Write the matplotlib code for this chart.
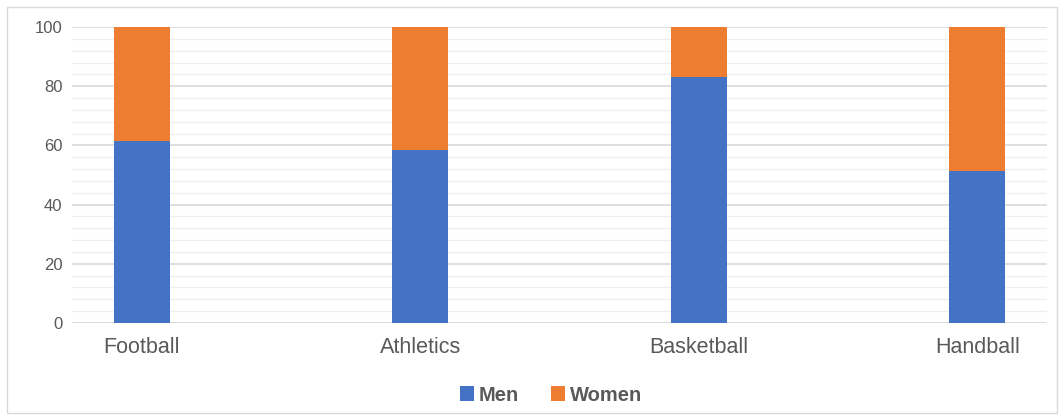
import matplotlib
matplotlib.use("Agg")
import matplotlib.pyplot as plt
from matplotlib.patches import Rectangle
import numpy as np

plt.rcParams['font.family'] = ['Liberation Sans', 'DejaVu Sans']

sports = ["Football", "Athletics", "Basketball", "Handball"]
men = [61.5, 58.5, 83, 51.5]
women = [100 - m for m in men]

blue = "#4472c4"
orange = "#ed7d31"

fig = plt.figure(figsize=(10.64, 4.19), dpi=100)
ax = fig.add_axes([72 / 1064, 96 / 419, 975 / 1064, 296 / 419])

x = np.arange(len(sports))
ax.bar(x, men, width=0.2, color=blue, label="Men", zorder=3)
ax.bar(x, women, width=0.2, bottom=men, color=orange, label="Women", zorder=3)

ax.set_xlim(-0.25, 3.25)
ax.set_ylim(0, 100)
ax.set_yticks(range(0, 101, 20))
ax.set_yticks(range(0, 101, 4), minor=True)
ax.grid(axis='y', which='major', color='#d9d9d9', linewidth=1.2, zorder=0)
ax.grid(axis='y', which='minor', color='#eeeeee', linewidth=0.9, zorder=0)
ax.set_xticks(x)
ax.set_xticklabels(sports)
ax.tick_params(axis='x', length=0, labelsize=15.5, labelcolor='#595959', pad=10)
ax.tick_params(axis='y', which='both', length=0, labelsize=12, labelcolor='#595959', pad=7)
for s in ax.spines.values():
    s.set_visible(False)
ax.axhline(0, color='#d9d9d9', linewidth=1.2, zorder=2)

leg = fig.legend(loc='center', bbox_to_anchor=(0.518, 24 / 419), ncol=2, frameon=False,
                 handlelength=0.7, handleheight=0.7, handletextpad=0.25, columnspacing=1.6,
                 prop={'size': 14.5, 'weight': 'bold'})
for t in leg.get_texts():
    t.set_color('#595959')

fig.patches.append(Rectangle((7 / 1064, 6 / 419), 1050 / 1064, 406 / 419, transform=fig.transFigure,
                             fill=False, edgecolor='#d9d9d9', linewidth=1))

fig.savefig("out.png", dpi=100)
